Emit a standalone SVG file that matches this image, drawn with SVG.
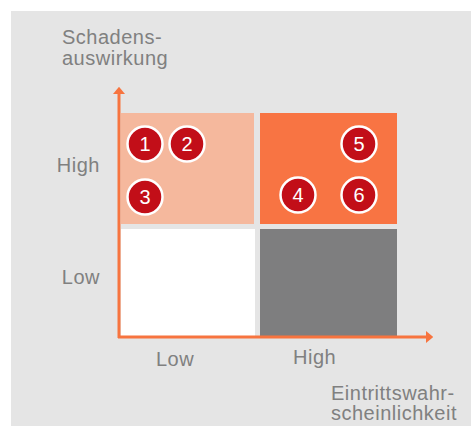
<svg xmlns="http://www.w3.org/2000/svg" width="471" height="427" viewBox="0 0 471 427">
<style>
.lbl{font-family:"Liberation Sans",Arial,sans-serif;font-size:20px;fill:#808080;letter-spacing:0.5px}
.num{font-family:"Liberation Sans",Arial,sans-serif;font-size:20px;fill:#ffffff;text-anchor:middle}
.dot{fill:#c20e18;stroke:#ffffff;stroke-width:2.5}
.axis{stroke:#f7743f;stroke-width:3;fill:none}
</style>
<defs>
<marker id="arr" viewBox="0 0 10 10" refX="0" refY="5" markerWidth="2.4" markerHeight="4" preserveAspectRatio="none" orient="auto">
<path d="M0,0 L10,5 L0,10 Z" fill="#f7743f"/>
</marker>
</defs>
<rect x="11" y="11" width="460" height="415" fill="#e5e5e5"/>
<g id="q-tl"><rect x="121" y="113" width="133" height="111" fill="#f5b89d"/></g>
<g id="q-tr"><rect x="260" y="113" width="137" height="111" fill="#f87443"/></g>
<g id="q-bl"><rect x="121" y="229" width="134" height="108" fill="#ffffff"/></g>
<g id="q-br"><rect x="260" y="229" width="137" height="108" fill="#7e7e7f"/></g>
<g id="connectors">
<path class="axis" d="M119,338 L119,94" marker-end="url(#arr)"/>
<path class="axis" d="M118,337 L426,337" marker-end="url(#arr)"/>
</g>
<g id="n1"><circle class="dot" cx="145" cy="144" r="17.5"/><text class="num" x="145" y="151">1</text></g>
<g id="n2"><circle class="dot" cx="187" cy="144" r="17.5"/><text class="num" x="187" y="151">2</text></g>
<g id="n3"><circle class="dot" cx="145" cy="197" r="17.5"/><text class="num" x="145" y="204">3</text></g>
<g id="n4"><circle class="dot" cx="298" cy="195" r="17.5"/><text class="num" x="298" y="202">4</text></g>
<g id="n5"><circle class="dot" cx="359" cy="144" r="17.5"/><text class="num" x="359" y="151">5</text></g>
<g id="n6"><circle class="dot" cx="359" cy="195" r="17.5"/><text class="num" x="359" y="202">6</text></g>
<g id="labels">
<text class="lbl" x="62" y="44">Schadens-</text>
<text class="lbl" x="62" y="65">auswirkung</text>
<text class="lbl" x="100" y="172" text-anchor="end">High</text>
<text class="lbl" x="100" y="284" text-anchor="end">Low</text>
<text class="lbl" x="156" y="366">Low</text>
<text class="lbl" x="293" y="364">High</text>
<text class="lbl" x="331" y="400">Eintrittswahr-</text>
<text class="lbl" x="331" y="420">scheinlichkeit</text>
</g>
</svg>
